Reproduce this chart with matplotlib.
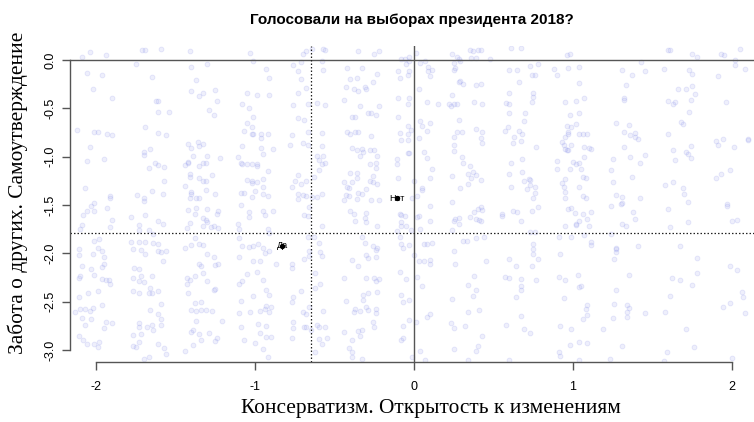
import numpy as np
import matplotlib
matplotlib.use('Agg')
import matplotlib.pyplot as plt

# group means
groups = ['Да', 'Нет']
group_x = [-0.83, -0.11]
group_y = [-1.92, -1.43]

# overall means (dotted lines)
mean_x = -0.65
mean_y = -1.785

title = 'Голосовали на выборах президента 2018?'
xlabel = 'Консерватизм. Открытость к изменениям'
ylabel = 'Забота о других. Самоутверждение'
xticks = [-2, -1, 0, 1, 2]
yticks = [0.0, -0.5, -1.0, -1.5, -2.0, -2.5, -3.0]

# respondents
pts_top_left = [
    (-2.09, 0.03), (-2.04, 0.08), (-1.94, 0.05), (-1.71, 0.10), (-1.69, 0.10), (-1.59, 0.11),
    (-1.41, 0.09), (-1.03, 0.07), (-2.06, -0.13), (-1.96, -0.16), (-1.75, -0.04), (-2.02, -0.30),
    (-1.90, -0.39), (-1.65, -0.18), (-1.40, -0.07), (-1.30, -0.04), (-1.37, -0.21), (-1.40, -0.32),
    (-1.35, -0.37), (-1.33, -0.34), (-1.25, -0.31), (-1.24, -0.42), (-1.29, -0.52), (-1.26, -0.57),
    (-1.62, -0.42), (-1.61, -0.42), (-1.61, -0.54), (-1.54, -0.54), (-0.93, -0.09), (-0.91, -0.19),
    (-1.01, -0.01), (-1.05, -0.34), (-0.99, -0.36), (-0.91, -0.36), (-1.08, -0.45), (-1.04, -0.50),
    (-1.01, -0.59), (-1.05, -0.65), (-1.02, -0.69), (-1.07, -0.73), (-1.02, -0.77), (-1.01, -0.77),
    (-0.96, -0.76), (-0.92, -0.76), (-0.96, -0.81), (-1.08, -0.89), (-0.96, -0.91), (-0.89, -0.92),
    (-0.95, -0.97), (-0.76, -0.05), (-0.73, -0.11), (-0.73, -0.34), (-0.76, -0.47), (-0.73, -0.60),
    (-0.77, -0.78), (-0.78, -0.88), (-2.12, -0.72), (-2.01, -0.74), (-1.99, -0.74), (-1.93, -0.76),
    (-1.90, -0.78), (-1.69, -0.69), (-1.61, -0.75), (-1.56, -0.78), (-2.04, -0.90), (-1.70, -0.95),
    (-1.70, -0.98), (-1.66, -0.92), (-2.06, -1.04), (-1.95, -1.02), (-1.67, -1.12), (-1.63, -1.07),
    (-1.61, -1.09), (-1.57, -1.11), (-1.42, -0.87), (-1.40, -0.91), (-1.36, -0.85), (-1.35, -0.89),
    (-1.33, -0.87), (-1.39, -0.99), (-1.30, -0.99), (-1.22, -1.01), (-1.42, -1.05), (-1.42, -1.07),
    (-1.44, -1.09), (-1.33, -1.07), (-1.31, -1.07), (-1.35, -1.10), (-1.41, -1.18), (-1.41, -1.21),
    (-1.35, -1.22), (-1.33, -1.25), (-1.31, -1.25), (-1.27, -1.19), (-1.44, -1.30), (-1.31, -1.34),
    (-1.40, -1.37), (-1.40, -1.39), (-1.41, -1.43), (-1.37, -1.43), (-1.35, -1.43), (-1.25, -1.39),
    (-1.11, -1.00), (-1.09, -1.06), (-1.08, -1.08), (-1.05, -1.08), (-1.02, -1.08), (-0.99, -1.08),
    (-0.99, -1.10), (-0.92, -1.15), (-1.05, -1.24), (-1.02, -1.25), (-1.02, -1.27), (-0.99, -1.26),
    (-0.95, -1.23), (-0.95, -1.31), (-1.00, -1.35), (-1.09, -1.38), (-1.07, -1.38), (-0.95, -1.39),
    (-0.92, -1.41), (-1.02, -1.42), (-0.77, -1.31), (-0.75, -1.25), (-0.73, -1.19), (-0.73, -1.39),
    (-0.73, -1.44), (-2.07, -1.32), (-1.91, -1.41), (-1.91, -1.43), (-1.74, -1.40), (-1.70, -1.43),
    (-1.70, -1.46), (-1.65, -1.35), (-1.58, -1.39), (-1.57, -1.25), (-2.01, -1.48),
]

pts_top_mid = [
    (-0.64, 0.11), (-0.57, 0.11), (-0.56, 0.10), (-0.70, 0.06), (-0.68, 0.09), (-0.35, 0.09),
    (-0.25, 0.06), (-0.22, 0.09), (-0.08, 0.01), (-0.06, 0.01), (-0.03, 0.03), (-0.05, -0.04),
    (-0.03, -0.01), (-0.04, -0.16), (-0.03, -0.11), (-0.10, -0.11), (-0.09, -0.19), (-0.58, -0.01),
    (-0.57, -0.10), (-0.42, -0.08), (-0.33, -0.08), (-0.40, -0.20), (-0.36, -0.19), (-0.38, -0.30),
    (-0.35, -0.32), (-0.31, -0.28), (-0.30, -0.30), (-0.43, -0.28), (-0.26, -0.23), (-0.23, -0.14),
    (-0.71, -0.02), (-0.71, -0.20), (-0.68, -0.29), (-0.67, -0.45), (-0.69, -0.62), (-0.61, -0.44),
    (-0.56, -0.47), (-0.44, -0.41), (-0.34, -0.48), (-0.22, -0.48), (-0.29, -0.55), (-0.27, -0.55),
    (-0.24, -0.57), (-0.39, -0.59), (-0.37, -0.59), (-0.10, -0.39), (-0.03, -0.39), (-0.04, -0.45),
    (-0.10, -0.59), (-0.04, -0.68), (-0.04, -0.76), (-0.09, -0.75), (-0.67, -0.74), (-0.58, -0.75),
    (-0.42, -0.74), (-0.40, -0.77), (-0.37, -0.74), (-0.35, -0.74), (-0.27, -0.79), (-0.08, -0.83),
    (-0.04, -0.83), (-0.02, -0.72), (-0.70, -0.86), (-0.67, -0.88), (-0.58, -0.89), (-0.39, -0.91),
    (-0.36, -0.93), (-0.33, -0.92), (-0.32, -0.95), (-0.28, -0.93), (-0.25, -0.93), (-0.04, -0.96),
    (-0.03, -0.96), (-0.23, -0.99), (-0.34, -0.99), (-0.61, -0.99), (-0.57, -0.99), (-0.60, -1.03),
    (-0.58, -1.08), (-0.56, -1.06), (-0.11, -1.02), (-0.11, -1.08), (-0.28, -1.08), (-0.24, -1.06),
    (-0.24, -1.12), (-0.36, -1.17), (-0.36, -1.22), (-0.40, -1.17), (-0.26, -1.20), (-0.28, -1.25),
    (-0.26, -1.26), (-0.23, -1.28), (-0.44, -1.26), (-0.39, -1.26), (-0.42, -1.31), (-0.41, -1.32),
    (-0.35, -1.38), (-0.30, -1.33), (-0.33, -1.39), (-0.36, -1.44), (-0.43, -1.40), (-0.41, -1.41),
    (-0.44, -1.45), (-0.27, -1.45), (-0.22, -1.45), (-0.63, -1.21), (-0.68, -1.25), (-0.71, -1.28),
    (-0.60, -1.14), (-0.70, -1.40), (-0.68, -1.41), (-0.64, -1.42), (-0.61, -1.42), (-0.58, -1.39),
    (-0.10, -1.22), (0.00, -1.25), (0.05, -1.32), (0.05, -1.34), (-0.01, -1.43), (0.02, -1.41),
    (0.01, 0.07), (0.07, -0.01), (0.04, -0.03), (0.09, -0.11), (0.11, -0.10), (0.10, -0.17),
    (0.09, -0.07), (0.03, -0.30), (0.08, -0.43), (0.15, -0.46), (0.04, -0.63), (0.05, -0.68),
    (0.08, -0.73), (0.10, -0.65), (0.03, -0.81), (0.06, -0.95), (0.08, -1.01), (0.11, -1.13),
    (0.10, -1.22), (0.24, 0.06), (0.27, 0.03), (0.28, 0.01), (0.29, -0.01), (0.35, 0.10),
    (0.37, 0.09), (0.40, 0.10), (0.42, 0.10), (0.36, 0.02), (0.39, 0.02), (0.48, 0.01),
    (0.25, -0.03), (0.25, -0.10), (0.26, -0.08), (0.28, -0.23), (0.29, -0.22), (0.31, -0.25),
    (0.39, -0.26), (0.42, -0.25), (0.24, -0.36), (0.25, -0.45), (0.22, -0.45), (0.23, -0.48),
    (0.27, -0.45), (0.38, -0.43), (0.43, -0.45), (0.28, -0.62), (0.39, -0.71), (0.43, -0.74),
    (0.42, -0.81), (0.43, -0.86), (0.27, -0.74), (0.30, -0.74), (0.25, -0.80), (0.25, -0.94),
    (0.25, -0.88), (0.30, -1.00), (0.31, -1.07), (0.35, -1.10), (0.37, -1.16), (0.34, -1.18),
    (0.39, -1.19), (0.36, -1.22), (0.42, -1.24), (0.24, -1.20), (0.29, -1.32), (0.34, -1.28),
    (0.24, -1.47), (0.60, -0.34), (0.58, -0.44), (0.60, -0.45), (0.60, -0.55), (0.57, -0.73),
    (0.59, -0.69), (0.63, -0.80), (0.62, -0.86), (0.66, -0.73), (0.68, -0.77), (0.67, -0.84),
    (0.69, -0.63), (0.70, -0.55), (0.66, -0.23), (0.65, -0.10), (0.60, -0.10), (0.61, 0.12),
    (0.67, 0.12), (0.61, -1.07), (0.60, -1.18), (0.68, -1.02), (0.68, -1.16), (0.69, -1.25),
    (0.72, -1.23), (0.61, -1.31), (0.71, -1.33), (0.73, -1.29),
]

pts_top_right = [
    (0.96, 0.05), (0.98, 0.06), (1.60, 0.10), (1.61, 0.10), (1.75, 0.06), (1.78, 0.03),
    (1.93, 0.06), (1.95, 0.05), (2.05, 0.11), (2.02, 0.00), (2.02, -0.05), (2.08, -0.09),
    (0.78, -0.04), (0.73, -0.06), (0.74, -0.15), (0.76, -0.15), (0.88, -0.09), (0.90, -0.15),
    (0.97, -0.08), (1.04, -0.07), (1.31, -0.10), (1.37, -0.15), (1.43, -0.02), (1.45, -0.11),
    (1.57, -0.09), (1.73, -0.10), (1.75, -0.14), (1.91, -0.17), (1.04, -0.24), (1.33, -0.26),
    (1.32, -0.39), (1.32, -0.41), (1.66, -0.30), (1.71, -0.30), (1.75, -0.27), (1.77, -0.35),
    (1.74, -0.41), (1.60, -0.42), (1.64, -0.43), (1.63, -0.45), (1.96, -0.43), (0.75, -0.34),
    (0.75, -0.38), (0.74, -0.43), (0.95, -0.43), (1.02, -0.42), (1.07, -0.39), (0.98, -0.57),
    (1.04, -0.55), (0.96, -0.68), (0.99, -0.69), (1.02, -0.66), (0.97, -0.74), (0.97, -0.76),
    (0.95, -0.80), (1.04, -0.77), (1.06, -0.76), (1.09, -0.76), (0.93, -0.85), (0.94, -0.88),
    (0.99, -0.88), (0.95, -0.92), (0.96, -0.93), (0.97, -0.93), (1.07, -0.90), (1.11, -0.92),
    (1.10, -0.91), (0.90, -1.04), (1.00, -1.05), (1.02, -1.08), (1.04, -1.07), (1.07, -1.00),
    (1.05, -1.13), (0.98, -1.13), (0.90, -1.13), (1.06, -1.21), (1.08, -1.22), (0.95, -1.23),
    (0.93, -1.27), (0.94, -1.31), (0.95, -1.37), (0.95, -1.43), (1.04, -1.31), (1.06, -1.41),
    (1.08, -1.43), (0.77, -0.90), (0.73, -1.24), (0.76, -1.31), (0.76, -1.38), (0.75, -1.43),
    (1.27, -0.65), (1.32, -0.74), (1.35, -0.67), (1.32, -0.90), (1.36, -0.78), (1.39, -0.75),
    (1.39, -0.80), (1.41, -0.82), (1.45, -0.98), (1.42, -1.06), (1.36, -1.00), (1.25, -1.02),
    (1.24, -1.14), (1.25, -1.26), (1.37, -1.21), (1.27, -1.40), (1.31, -1.42), (1.42, -1.43),
    (1.31, -1.48), (1.60, -0.77), (1.63, -0.93), (1.64, -1.03), (1.71, -0.95), (1.72, -0.97),
    (1.74, -1.01), (1.74, -0.89), (1.68, -0.64), (1.69, -0.66), (1.73, -0.54), (1.58, -1.29),
    (1.63, -1.26), (1.69, -1.32), (1.70, -1.39), (1.72, -1.47), (1.97, -1.49), (1.90, -0.84),
    (1.91, -0.88), (1.94, -0.82), (2.01, -0.90), (2.10, -0.82), (2.10, -0.83), (1.90, -1.22),
    (1.93, -1.18), (1.99, -1.14),
]

pts_bottom_left = [
    (-2.03, -1.51), (-2.01, -1.56), (-2.06, -1.56), (-2.08, -1.60), (-1.93, -1.53), (-1.90, -1.65),
    (-1.91, -1.73), (-2.09, -1.71), (-2.10, -1.75), (-1.78, -1.62), (-1.73, -1.71), (-1.69, -1.60),
    (-1.61, -1.66), (-1.58, -1.70), (-1.73, -1.76), (-1.67, -1.76), (-1.64, -1.80), (-1.42, -1.55),
    (-1.37, -1.53), (-1.38, -1.59), (-1.30, -1.54), (-1.23, -1.56), (-1.33, -1.63), (-1.31, -1.65),
    (-1.30, -1.68), (-1.33, -1.72), (-1.41, -1.69), (-1.43, -1.74), (-1.28, -1.73), (-1.26, -1.72),
    (-1.23, -1.74), (-1.24, -1.59), (-1.09, -1.50), (-1.04, -1.57), (-1.04, -1.62), (-1.11, -1.70),
    (-1.10, -1.75), (-0.95, -1.56), (-0.94, -1.60), (-0.89, -1.56), (-0.92, -1.75), (-0.91, -1.79),
    (-2.01, -1.87), (-1.98, -1.85), (-1.99, -1.94), (-1.96, -1.97), (-2.02, -2.01), (-2.11, -1.95),
    (-2.11, -2.02), (-2.09, -2.13), (-1.95, -2.04), (-1.95, -2.11), (-1.96, -2.14), (-2.03, -2.16),
    (-2.01, -2.22), (-2.10, -2.23), (-2.11, -2.25), (-1.96, -2.26), (-1.94, -2.28), (-1.91, -2.32),
    (-1.92, -2.28), (-2.11, -2.45), (-2.05, -2.41), (-1.99, -2.39), (-2.07, -2.57), (-2.02, -2.56),
    (-2.10, -2.57), (-2.04, -2.60), (-2.13, -2.61), (-1.96, -2.53), (-2.09, -2.67), (-2.03, -2.68),
    (-1.94, -2.71), (-1.90, -2.72), (-2.07, -2.74), (-1.95, -2.77), (-2.11, -2.85), (-2.08, -2.90),
    (-2.06, -2.94), (-2.01, -2.94), (-1.98, -2.92), (-1.99, -2.97), (-1.78, -1.88), (-1.77, -1.95),
    (-1.72, -1.96), (-1.69, -2.01), (-1.73, -1.88), (-1.69, -1.88), (-1.64, -1.89), (-1.61, -1.90),
    (-1.59, -1.99), (-1.56, -1.97), (-1.58, -2.08), (-1.76, -2.15), (-1.73, -2.16), (-1.77, -2.25),
    (-1.72, -2.23), (-1.73, -2.29), (-1.70, -2.30), (-1.65, -2.23), (-1.61, -1.98), (-1.77, -2.39),
    (-1.73, -2.41), (-1.66, -2.36), (-1.65, -2.41), (-1.61, -2.39), (-1.67, -2.41), (-1.59, -2.52),
    (-1.66, -2.59), (-1.61, -2.63), (-1.59, -2.68), (-1.59, -2.74), (-1.65, -2.74), (-1.68, -2.76),
    (-1.73, -2.72), (-1.73, -2.76), (-1.77, -2.84), (-1.72, -2.83), (-1.73, -2.92), (-1.77, -2.96),
    (-1.75, -2.97), (-1.64, -2.79), (-1.61, -2.94), (-1.57, -2.98), (-1.56, -3.04), (-1.67, -3.07),
    (-1.70, -3.09), (-1.44, -1.94), (-1.40, -1.91), (-1.38, -1.84), (-1.35, -1.90), (-1.33, -1.91),
    (-1.43, -2.32), (-1.42, -2.41), (-1.43, -2.25), (-1.41, -2.27), (-1.38, -2.23), (-1.35, -2.11),
    (-1.34, -2.13), (-1.30, -2.01), (-1.26, -2.04), (-1.25, -2.12), (-1.23, -2.11), (-1.33, -2.20),
    (-1.30, -2.29), (-1.26, -2.38), (-1.25, -2.37), (-1.38, -2.51), (-1.40, -2.59), (-1.37, -2.60),
    (-1.34, -2.59), (-1.31, -2.59), (-1.27, -2.60), (-1.34, -2.50), (-1.37, -2.70), (-1.39, -2.79),
    (-1.40, -2.81), (-1.35, -2.83), (-1.29, -2.82), (-1.21, -2.70), (-1.34, -2.90), (-1.25, -2.91),
    (-1.24, -2.88), (-1.44, -3.01), (-1.39, -2.95), (-1.10, -1.84), (-1.08, -1.92), (-1.04, -1.93),
    (-1.01, -1.92), (-0.98, -1.90), (-0.95, -1.94), (-0.94, -2.00), (-0.91, -1.97), (-1.10, -2.04),
    (-1.01, -2.08), (-0.97, -2.08), (-0.87, -2.11), (-0.99, -2.19), (-1.05, -2.21), (-1.10, -2.32),
    (-1.08, -2.29), (-0.95, -2.27), (-1.01, -2.44), (-0.93, -2.38), (-0.91, -2.43), (-1.09, -2.49),
    (-1.03, -2.61), (-0.97, -2.60), (-0.94, -2.58), (-0.91, -2.61), (-0.90, -2.55), (-0.93, -2.54),
    (-1.10, -2.62), (-1.09, -2.76), (-0.98, -2.73), (-0.93, -2.75), (-0.97, -2.82), (-0.93, -2.86),
    (-0.90, -2.86), (-1.00, -2.93), (-1.07, -2.90), (-0.95, -2.99), (-0.92, -3.07), (-0.77, -2.11),
    (-0.77, -2.15), (-0.76, -2.45), (-0.77, -2.50), (-0.76, -2.71), (-0.76, -2.77), (-0.77, -2.87),
]

pts_bottom_mid = [
    (-0.69, -1.60), (-0.67, -1.61), (-0.66, -1.52), (-0.58, -1.72), (-0.40, -1.56), (-0.38, -1.59),
    (-0.37, -1.67), (-0.30, -1.58), (-0.31, -1.63), (-0.30, -1.68), (-0.23, -1.72), (-0.09, -1.59),
    (-0.08, -1.60), (-0.06, -1.61), (-0.08, -1.68), (-0.08, -1.72), (-0.05, -1.72), (-0.11, -1.77),
    (0.02, -1.62), (0.03, -1.61), (0.10, -1.51), (0.10, -1.66), (-0.02, -1.76), (0.04, -1.75),
    (0.26, -1.64), (0.25, -1.67), (0.28, -1.63), (0.28, -1.70), (0.35, -1.62), (0.38, -1.57),
    (0.40, -1.54), (0.42, -1.52), (0.43, -1.55), (0.41, -1.65), (0.39, -1.64), (0.42, -1.67),
    (0.55, -1.59), (0.55, -1.61), (0.62, -1.56), (0.65, -1.57), (0.67, -1.66), (0.24, -1.76),
    (0.31, -1.87), (0.33, -1.87), (0.39, -1.84), (0.44, -1.83), (-0.67, -1.83), (-0.63, -1.83),
    (-0.60, -1.89), (-0.59, -1.99), (-0.58, -2.03), (-0.66, -1.98), (-0.69, -2.06), (-0.66, -2.03),
    (-0.62, -2.20), (-0.59, -2.32), (-0.62, -2.36), (-0.71, -2.39), (-0.68, -2.63), (-0.70, -2.61),
    (-0.66, -2.55), (-0.69, -2.76), (-0.68, -2.76), (-0.61, -2.74), (-0.60, -2.76), (-0.56, -2.76),
    (-0.57, -2.60), (-0.60, -2.89), (-0.55, -2.87), (-0.58, -2.94), (-0.62, -3.02), (-0.65, -2.79),
    (-0.33, -1.83), (-0.31, -1.89), (-0.26, -1.92), (-0.24, -1.96), (-0.23, -1.94), (-0.30, -2.02),
    (-0.29, -2.05), (-0.24, -2.04), (-0.39, -2.07), (-0.35, -2.13), (-0.44, -2.25), (-0.30, -2.25),
    (-0.25, -2.25), (-0.22, -2.26), (-0.24, -2.29), (-0.23, -2.40), (-0.29, -2.41), (-0.32, -2.43),
    (-0.32, -2.48), (-0.43, -2.49), (-0.30, -2.55), (-0.34, -2.60), (-0.37, -2.58), (-0.38, -2.61),
    (-0.29, -2.59), (-0.24, -2.58), (-0.24, -2.62), (-0.26, -2.71), (-0.25, -2.76), (-0.33, -2.79),
    (-0.35, -2.80), (-0.44, -2.81), (-0.34, -2.85), (-0.39, -2.90), (-0.41, -2.98), (-0.39, -3.02),
    (-0.39, -3.07), (-0.33, -3.09), (-0.09, -2.19), (-0.05, -2.26), (-0.08, -2.43), (-0.07, -2.50),
    (-0.03, -2.48), (-0.03, -2.69), (-0.07, -2.75), (-0.08, -2.90), (-0.07, -2.88), (-0.01, -3.07),
    (-0.09, -1.83), (-0.08, -1.90), (-0.07, -1.94), (-0.03, -1.91), (0.00, -2.02), (0.03, -2.08),
    (0.06, -2.08), (0.10, -2.07), (0.10, -2.11), (0.06, -1.90), (0.08, -1.90), (0.11, -1.89),
    (0.02, -2.24), (0.05, -2.34), (0.10, -2.63), (0.08, -2.66), (0.01, -2.71), (0.04, -3.01),
    (0.07, -3.10), (0.25, -1.97), (0.26, -2.11), (0.45, -2.08), (0.38, -2.23), (0.34, -2.33),
    (0.37, -2.44), (0.39, -2.38), (0.41, -2.59), (0.34, -2.61), (0.24, -2.47), (0.23, -2.72),
    (0.25, -2.77), (0.32, -2.75), (0.43, -2.85), (0.40, -2.96), (0.39, -3.01), (0.25, -2.99),
    (0.34, -3.10), (0.57, -2.24), (0.60, -2.06), (0.64, -2.13), (0.60, -2.25), (0.67, -2.26),
    (0.67, -2.34), (0.67, -2.38), (0.64, -2.45), (0.67, -2.65), (0.58, -2.74), (0.69, -2.78),
    (0.73, -2.82), (0.60, -3.10),
]

pts_bottom_right = [
    (0.74, -1.56), (0.78, -1.52), (0.97, -1.54), (0.99, -1.53), (1.01, -1.58), (1.06, -1.59),
    (1.09, -1.64), (1.11, -1.57), (1.04, -1.67), (1.02, -1.70), (1.02, -1.71), (1.10, -1.72),
    (0.95, -1.72), (1.24, -1.51), (1.30, -1.49), (1.38, -1.57), (1.39, -1.64), (1.31, -1.70),
    (1.33, -1.72), (1.60, -1.54), (1.72, -1.68), (1.61, -1.73), (1.97, -1.51), (2.00, -1.66),
    (2.03, -1.65), (0.73, -1.78), (0.76, -1.78), (0.75, -1.90), (0.75, -1.95), (0.75, -2.01),
    (0.78, -2.06), (0.74, -2.13), (0.77, -2.28), (0.91, -1.83), (0.99, -1.83), (0.92, -2.01),
    (1.07, -1.81), (1.11, -1.88), (1.11, -1.91), (1.24, -1.80), (1.27, -1.94), (1.27, -1.95),
    (1.27, -1.99), (1.26, -2.06), (1.41, -1.92), (1.67, -1.92), (1.78, -2.05), (1.78, -2.20),
    (1.35, -2.22), (1.03, -2.22), (0.91, -2.24), (0.95, -2.28), (1.04, -2.35), (1.05, -2.34),
    (1.27, -2.38), (0.94, -2.46), (1.09, -2.53), (1.08, -2.58), (1.09, -2.64), (1.06, -2.68),
    (1.26, -2.52), (1.25, -2.67), (1.34, -2.53), (1.35, -2.56), (1.34, -2.61), (1.34, -2.66),
    (1.45, -2.62), (1.58, -2.61), (1.61, -2.44), (1.67, -2.27), (1.62, -2.25), (1.75, -2.33),
    (1.99, -2.13), (2.03, -2.17), (2.06, -2.40), (2.07, -2.45), (1.99, -2.51), (1.94, -2.55),
    (2.08, -2.62), (0.92, -2.75), (0.99, -2.78), (1.19, -2.78), (1.71, -2.78), (0.98, -2.95),
    (1.04, -2.92), (1.09, -2.93), (0.91, -3.02), (0.92, -3.06), (1.04, -3.10), (1.23, -3.09),
    (1.31, -2.96), (1.59, -3.02), (1.57, -3.11), (1.76, -2.97), (2.00, -3.08),
]

point_groups = [pts_top_left, pts_top_mid, pts_top_right,
                pts_bottom_left, pts_bottom_mid, pts_bottom_right]
bg = np.array([p for grp in point_groups for p in grp])

plt.rcParams['font.family'] = ['Liberation Sans', 'DejaVu Sans']

fig = plt.figure(figsize=(7.54, 4.22), dpi=100)
ax = fig.add_axes([0.0928, 0.1422, 0.9072, 0.7488])

ax.scatter(bg[:, 0], bg[:, 1], s=12, facecolor=(0.55, 0.58, 0.92, 0.14),
           edgecolor=(0.55, 0.58, 0.92, 0.22), linewidth=0.6, zorder=1)

ax.axvline(0, color='#555555', lw=1.0, zorder=2)
ax.axhline(0, color='#555555', lw=1.0, zorder=2)
ax.axvline(mean_x, color='#222222', lw=0.9, linestyle=(0, (1.2, 1.6)), zorder=2)
ax.axhline(mean_y, color='#222222', lw=0.9, linestyle=(0, (1.2, 1.6)), zorder=2)

ax.scatter(group_x, group_y, s=8, color='black', zorder=4)
for name, gx, gy in zip(groups, group_x, group_y):
    ax.text(gx, gy, name, ha='center', va='center', fontsize=6.5, color='black', zorder=3)

ax.set_xlim(-2.164, 2.138)
ax.set_ylim(-3.123, 0.145)

ax.spines['top'].set_visible(False)
ax.spines['right'].set_visible(False)
ax.spines['left'].set_bounds(-3, 0)
ax.spines['bottom'].set_bounds(-2, 2)
for s in ['left', 'bottom']:
    ax.spines[s].set_color('#555555')
    ax.spines[s].set_linewidth(1.0)

ax.set_xticks(xticks)
ax.set_xticklabels([str(t) for t in xticks])
ax.set_yticks(yticks)
ax.set_yticklabels([f'{t:.1f}' for t in yticks], rotation=90, va='center')
ax.tick_params(direction='out', length=6, width=1.0, color='#555555', labelsize=9)
ax.tick_params(axis='x', pad=8)
ax.tick_params(axis='y', pad=4)

ax.set_title(title, fontsize=11, fontweight='bold', pad=16)
ax.set_xlabel(xlabel, family=['Liberation Serif', 'DejaVu Serif'], fontsize=15.4)
ax.set_ylabel(ylabel, family=['Liberation Serif', 'DejaVu Serif'], fontsize=15.4)
ax.xaxis.set_label_coords(0.528, -0.118)
ax.yaxis.set_label_coords(-0.061, 0.535)

fig.savefig('out.png', dpi=100)
